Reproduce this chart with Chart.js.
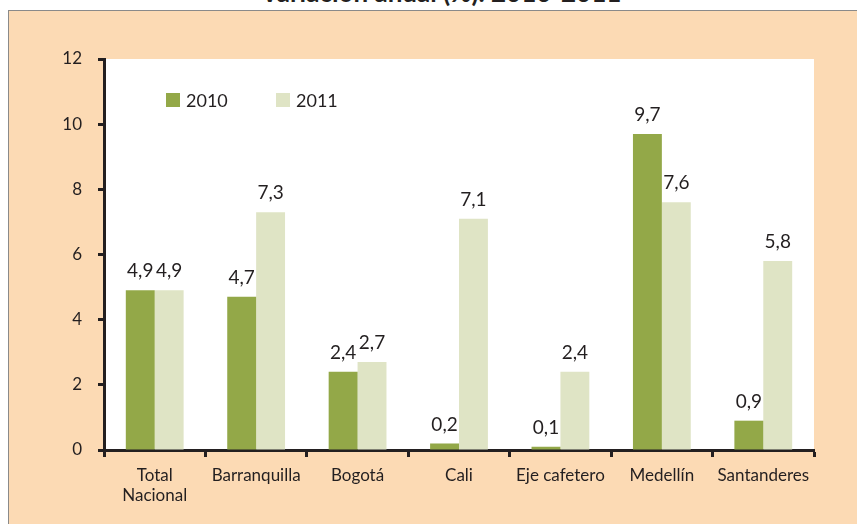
<!DOCTYPE html>
<html>
<head>
<meta charset="utf-8">
<script src="https://cdn.jsdelivr.net/npm/chart.js@4/dist/chart.umd.min.js"></script>
<style>
  html, body { margin: 0; padding: 0; background: #fff; overflow: hidden; }
  #frame {
    position: absolute; left: 8px; top: 10px; width: 870px; height: 540px;
    background: #FCDAB4; border: 1.5px solid #8a8a8a;
  }
  #title {
    position: absolute; top: -21px; left: 0; width: 882px; text-align: center;
    font: bold 26px Lato, sans-serif; line-height: 26px; color: #231F20;
  }
  #wrap { position: absolute; left: 0; top: 0; width: 857px; height: 524px; }
</style>
</head>
<body>
<div id="frame"></div>
<div id="title">Variación anual (%). 2010-2011</div>
<div id="wrap"><canvas id="myChart"></canvas></div>
<script>
  const categories = [["Total", "Nacional"], "Barranquilla", "Bogotá", "Cali", "Eje cafetero", "Medellín", "Santanderes"];
  const values2010 = [4.9, 4.7, 2.4, 0.2, 0.1, 9.7, 0.9];
  const values2011 = [4.9, 7.3, 2.7, 7.1, 2.4, 7.6, 5.8];
  const yTicks = [0, 2, 4, 6, 8, 10, 12];

  const ink = "#231F20";
  const font = "Lato, sans-serif";

  // white plot area
  const plotBg = {
    id: "plotBg",
    beforeDraw(chart) {
      const a = chart.chartArea, c = chart.ctx;
      c.save();
      c.fillStyle = "#fff";
      c.fillRect(a.left, a.top, a.right - a.left, a.bottom - a.top);
      c.restore();
    }
  };

  // value labels above bars, comma decimal
  const barLabels = {
    id: "barLabels",
    afterDatasetsDraw(chart) {
      const c = chart.ctx;
      c.save();
      c.font = "19px " + font;
      c.fillStyle = ink;
      c.textAlign = "center";
      c.textBaseline = "middle";
      chart.data.datasets.forEach((ds, i) => {
        chart.getDatasetMeta(i).data.forEach((bar, j) => {
          const txt = ds.data[j].toFixed(1).replace(".", ",");
          c.fillText(txt, bar.x, bar.y - 19);
        });
      });
      c.restore();
    }
  };

  // legend inside the plot, top left
  const innerLegend = {
    id: "innerLegend",
    afterDraw(chart) {
      const a = chart.chartArea, c = chart.ctx;
      c.save();
      c.font = "18px " + font;
      c.textBaseline = "middle";
      chart.data.datasets.forEach((ds, i) => {
        const x = a.left + 62 + i * 110;
        const y = a.top + 41;
        c.fillStyle = ds.backgroundColor;
        c.fillRect(x, y - 7, 14, 14);
        c.fillStyle = ink;
        c.fillText(ds.label, x + 20, y + 1);
      });
      c.restore();
    }
  };

  new Chart(document.getElementById("myChart").getContext("2d"), {
    type: "bar",
    data: {
      labels: categories,
      datasets: [
        { label: "2010", data: values2010, backgroundColor: "#93A848" },
        { label: "2011", data: values2011, backgroundColor: "#DFE4C5" }
      ]
    },
    options: {
      responsive: true,
      maintainAspectRatio: false,
      animation: false,
      layout: { padding: { top: 59, right: 43, bottom: 0, left: 0 } },
      datasets: { bar: { barPercentage: 1, categoryPercentage: 0.57 } },
      plugins: {
        legend: { display: false },
        tooltip: { enabled: false }
      },
      scales: {
        x: {
          afterFit: s => { s.height = 74; },
          grid: { drawOnChartArea: false, drawTicks: true, tickLength: 7, tickWidth: 3, tickColor: ink },
          border: { display: true, color: ink, width: 3 },
          ticks: { color: ink, font: { family: font, size: 17 }, padding: 8, maxRotation: 0, autoSkip: false }
        },
        y: {
          min: 0,
          max: 12,
          afterFit: s => { s.width = 104; },
          afterBuildTicks: s => { s.ticks = yTicks.map(v => ({ value: v })); },
          grid: { drawOnChartArea: false, drawTicks: true, tickLength: 6, tickWidth: 3, tickColor: ink },
          border: { display: true, color: ink, width: 3 },
          ticks: { color: ink, font: { family: font, size: 17 }, padding: 16 }
        }
      }
    },
    plugins: [plotBg, barLabels, innerLegend]
  });
</script>
</body>
</html>
